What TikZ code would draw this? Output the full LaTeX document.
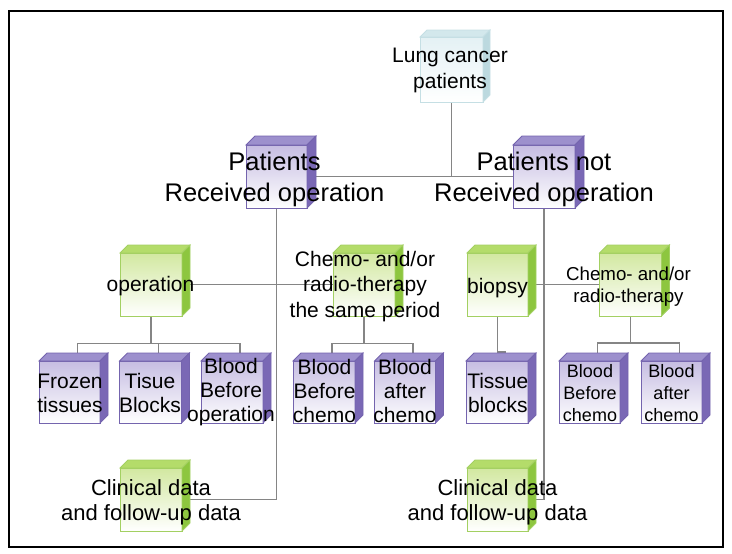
\documentclass[tikz,border=0pt]{standalone}
\usepackage{fontspec}
\setmainfont{Liberation Sans}
\definecolor{puF}{HTML}{C6BDE2}
\definecolor{puT}{HTML}{9D90CD}
\definecolor{puS}{HTML}{7A68B5}
\definecolor{puE}{HTML}{7464AE}
\definecolor{grF}{HTML}{D2E8A0}
\definecolor{grT}{HTML}{B4DC6A}
\definecolor{grS}{HTML}{8DC63F}
\definecolor{grE}{HTML}{A3D062}
\definecolor{cyF}{HTML}{E4F1F4}
\definecolor{cyT}{HTML}{D3E8EC}
\definecolor{cyS}{HTML}{BCD9DF}
\definecolor{cyE}{HTML}{C5DFE4}
\definecolor{lineC}{HTML}{858585}
\pgfdeclarelayer{bg}
\pgfsetlayers{bg,main}
\newcommand\mkcube[7]{%
  \node[frontbox, minimum width=#4pt, minimum height=#5pt, top color=#7F, bottom color=white, draw=#7E] (#1) at (#2,#3) {};
  \filldraw[fill=#7T, draw=#7E, line width=0.8pt] (#1.north west) -- ++(#6,-#6) -- ([shift={(#6,-#6)}]#1.north east) -- (#1.north east) -- cycle;
  \filldraw[fill=#7S, draw=#7E, line width=0.8pt] (#1.north east) -- ++(#6,-#6) -- ([shift={(#6,-#6)}]#1.south east) -- (#1.south east) -- cycle;
}
\tikzset{
  conn/.style={draw=lineC, line width=1.6pt},
  frontbox/.style={rectangle, inner sep=0pt, outer sep=0pt, line width=0.8pt},
  lbl/.style={align=center, inner sep=0pt, text=black, anchor=base},
  fLung/.style={font=\fontsize{21}{25}\selectfont},
  fPat/.style={font=\fontsize{25.5}{31.7}\selectfont},
  fMid/.style={font=\fontsize{21}{25.5}\selectfont},
  fSmall/.style={font=\fontsize{18.7}{22.7}\selectfont},
  fBot/.style={font=\fontsize{21}{24.3}\selectfont},
  fBotS/.style={font=\fontsize{18}{22}\selectfont},
  fClin/.style={font=\fontsize{22}{25}\selectfont},
}
\begin{document}
\begin{tikzpicture}[x=1pt,y=-1pt]
\useasboundingbox (0,0) rectangle (732,554);
\draw[line width=1.5pt] (9,11) rectangle (723,547);
% cubes
\mkcube{lung}{451.5}{69.5}{63}{65}{7}{cy}
\mkcube{pro}{276.5}{176.5}{61}{63}{9}{pu}
\mkcube{pnro}{544}{176.5}{62}{63}{9}{pu}
\mkcube{oper}{151}{284.5}{62}{63}{8}{gr}
\mkcube{chemoL}{364}{284.5}{62}{63}{8}{gr}
\mkcube{biopsy}{497.5}{284.5}{61}{63}{8}{gr}
\mkcube{chemoR}{630.5}{284.5}{62}{63}{8}{gr}
\mkcube{frozen}{69.5}{392}{61}{62}{8}{pu}
\mkcube{tisue}{150.5}{392}{62}{62}{8}{pu}
\mkcube{bloodBO}{232}{392}{62}{62}{8}{pu}
\mkcube{bloodBC}{324}{392}{62}{62}{8}{pu}
\mkcube{bloodAC}{405}{392}{61}{62}{8}{pu}
\mkcube{tissueB}{497}{392}{62}{62}{8}{pu}
\mkcube{bloodBCr}{589.5}{392}{61}{62}{8}{pu}
\mkcube{bloodACr}{671.5}{392}{61}{62}{8}{pu}
\mkcube{clinL}{151}{499.5}{62}{63}{8}{gr}
\mkcube{clinR}{497.5}{499.5}{61}{63}{8}{gr}
% connectors behind the cubes
\begin{pgfonlayer}{bg}
\draw[conn] (lung.south) -- (lung.south |- pro.east);
\draw[conn] (pro.east) -- (pnro.west);
\draw[conn] (pro.south) |- (clinL.east);
\draw[conn] (pnro.south) |- (clinR.east);
\draw[conn] (oper.east) -- (chemoL.west);
\draw[conn] (biopsy.east) -- (chemoR.west);
\coordinate (busL) at (151,343.5);
\draw[conn] (oper.south) -- (busL);
\draw[conn] ([shift={(8,-8)}]frozen.north) |- (busL) -| ([shift={(8,-8)}]bloodBO.north);
\draw[conn] (busL) -| ([shift={(8,-8)}]tisue.north);
\coordinate (busC) at (364,343.5);
\draw[conn] (chemoL.south) -- (busC);
\draw[conn] ([shift={(8,-8)}]bloodBC.north) |- (busC) -| ([shift={(8,-8)}]bloodAC.north);
\draw[conn] (biopsy.south) |- ([shift={(8,-9)}]tissueB.north) -- ([shift={(8,-8)}]tissueB.north);
\coordinate (busR) at (630.5,343);
\draw[conn] (chemoR.south) -- (busR);
\draw[conn] ([shift={(8,-8)}]bloodBCr.north) |- (busR) -| ([shift={(8,-8)}]bloodACr.north);
\end{pgfonlayer}
% texts (anchor = baseline of the last line)
\node[lbl, fLung] (lungT) at (450,88) {Lung cancer\\patients};
\node[lbl, fPat] (proT) at (274.5,201.7) {Patients\\Received operation};
\node[lbl, fPat] (pnroT) at (544,201.7) {Patients not\\Received operation};
\node[lbl, fMid] (operT) at (150.5,291.5) {operation};
\node[lbl, fMid] (chemoLT) at (365,317.3) {Chemo- and/or\\radio-therapy\\the same period};
\node[lbl, fMid] (biopsyT) at (497.5,293.3) {biopsy};
\node[lbl, fSmall] (chemoRT) at (628.5,302.7) {Chemo- and/or\\radio-therapy};
\node[lbl, fBot] (frozenT) at (70,412.7) {Frozen\\tissues};
\node[lbl, fBot] (tisueT) at (150,412.7) {Tisue\\Blocks};
\node[lbl, fBot] (bloodBOT) at (231,421.7) {Blood\\Before\\operation};
\node[lbl, fBot] (bloodBCT) at (324.5,422.7) {Blood\\Before\\chemo};
\node[lbl, fBot] (bloodACT) at (405,422.7) {Blood\\after\\chemo};
\node[lbl, fBot] (tissueBT) at (497.8,412.7) {Tissue\\blocks};
\node[lbl, fBotS] (bloodBCrT) at (590,421) {Blood\\Before\\chemo};
\node[lbl, fBotS] (bloodACrT) at (671.5,421) {Blood\\after\\chemo};
\node[lbl, fClin] (clinLT) at (151,520) {Clinical data\\and follow-up data};
\node[lbl, fClin] (clinRT) at (497.5,520.7) {Clinical data\\and follow-up data};
\end{tikzpicture}
\end{document}
